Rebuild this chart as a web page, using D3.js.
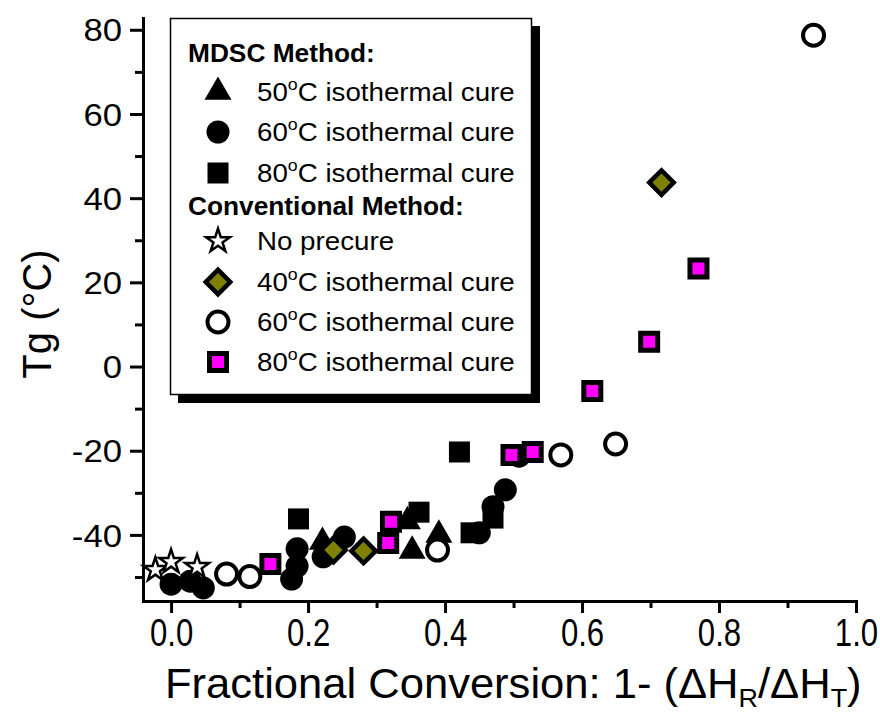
<!DOCTYPE html>
<html>
<head>
<meta charset="utf-8">
<script src="https://cdn.jsdelivr.net/npm/d3@7"></script>
<style>
  body { margin: 0; background: #fff; }
  svg { display: block; }
  text { font-family: "Liberation Sans", Arial, sans-serif; fill: #000; }
</style>
</head>
<body>
<svg id="chart" width="880" height="713"></svg>
<script>
// Glass transition temperature vs. fractional conversion

// MDSC method
const mdsc50X = [0.221, 0.345, 0.352, 0.391];
const mdsc50Y = [-41.7, -36.8, -43.8, -40.0];

const mdsc60X = [0.000, 0.028, 0.047, 0.176, 0.184, 0.184, 0.222, 0.253, 0.450, 0.470, 0.488, 0.508];
const mdsc60Y = [-51.7, -51.0, -52.6, -50.5, -47.4, -43.3, -45.2, -40.5, -39.5, -33.3, -29.3, -21.3];

const mdsc80X = [0.186, 0.362, 0.421, 0.438, 0.470];
const mdsc80Y = [-36.2, -34.6, -20.3, -39.5, -36.0];

// Conventional method
const noPrecureX = [-0.023, 0.000, 0.038];
const noPrecureY = [-48.3, -46.4, -47.6];

const conv40X = [0.237, 0.281, 0.716];
const conv40Y = [-43.6, -43.8, 43.7];

const conv60X = [0.081, 0.115, 0.389, 0.569, 0.649, 0.938];
const conv60Y = [-49.3, -49.9, -43.6, -21.0, -18.4, 78.7];

const conv80X = [0.145, 0.317, 0.321, 0.497, 0.528, 0.615, 0.698, 0.770];
const conv80Y = [-46.9, -41.9, -36.9, -21.0, -20.3, -5.8, 5.9, 23.3];

// Axis ticks
const xMajorTicks = [0.0, 0.2, 0.4, 0.6, 0.8, 1.0];
const xMinorTicks = [0.1, 0.3, 0.5, 0.7, 0.9];
const yMajorTicks = [-40, -20, 0, 20, 40, 60, 80];
const yMinorTicks = [-50, -30, -10, 10, 30, 50, 70];

const svg = d3.select("#chart");
svg.append("rect").attr("width", 880).attr("height", 713).attr("fill", "#fff");

const x = d3.scaleLinear().domain([-0.041, 1.0]).range([143, 856]);
const y = d3.scaleLinear().domain([-55.7, 82.8]).range([601, 18]);

// Marker styles
const markers = {
  tri:    { type: d3.symbolTriangle, size: 315, fill: "#000", stroke: "none", sw: 0 },
  dot:    { type: d3.symbolCircle,   size: Math.PI * 11.5 * 11.5, fill: "#000", stroke: "none", sw: 0 },
  sq:     { type: d3.symbolSquare,   size: 441, fill: "#000", stroke: "none", sw: 0 },
  star:   { type: d3.symbolStar,     size: 175, fill: "#fff", stroke: "#000", sw: 2.5 },
  dia:    { type: d3.symbolSquare,   size: 300, fill: "#808000", stroke: "#000", sw: 4.5, rot: 45 },
  ring:   { type: d3.symbolCircle,   size: Math.PI * 10.5 * 10.5, fill: "#fff", stroke: "#000", sw: 4 },
  magsq:  { type: d3.symbolSquare,   size: 289, fill: "#ff00ff", stroke: "#000", sw: 5 }
};

const series = [
  { xs: mdsc50X, ys: mdsc50Y, m: markers.tri },
  { xs: mdsc60X, ys: mdsc60Y, m: markers.dot },
  { xs: mdsc80X, ys: mdsc80Y, m: markers.sq },
  { xs: noPrecureX, ys: noPrecureY, m: markers.star },
  { xs: conv40X, ys: conv40Y, m: markers.dia },
  { xs: conv60X, ys: conv60Y, m: markers.ring },
  { xs: conv80X, ys: conv80Y, m: markers.magsq }
];

function drawMarker(g, m, cx, cy) {
  g.append("path")
    .attr("d", d3.symbol().type(m.type).size(m.size)())
    .attr("transform", `translate(${cx},${cy})` + (m.rot ? ` rotate(${m.rot})` : ""))
    .attr("fill", m.fill)
    .attr("stroke", m.stroke)
    .attr("stroke-width", m.sw)
    .attr("stroke-linejoin", "miter");
}

// Axes
const axisStyle = g => {
  g.selectAll("path.domain").attr("stroke", "#000").attr("stroke-width", 3).attr("stroke-linecap", "square");
  g.selectAll(".tick line").attr("stroke", "#000").attr("stroke-width", 3);
};

const xMinor = svg.append("g").attr("transform", "translate(0,601)")
  .call(d3.axisBottom(x).tickValues(xMinorTicks).tickSize(7).tickSizeOuter(0).tickFormat(""));
axisStyle(xMinor);
const xMajor = svg.append("g").attr("transform", "translate(0,601)")
  .call(d3.axisBottom(x).tickValues(xMajorTicks).tickSize(12).tickSizeOuter(0).tickPadding(9)
    .tickFormat(d => d.toFixed(1)));
axisStyle(xMajor);
xMajor.selectAll("text").attr("font-size", 38).attr("font-family", "Liberation Sans, Arial, sans-serif")
  .attr("y", 18).attr("transform", "scale(0.82,1)");

const yMinor = svg.append("g").attr("transform", "translate(143,0)")
  .call(d3.axisLeft(y).tickValues(yMinorTicks).tickSize(8).tickSizeOuter(0).tickFormat(""));
axisStyle(yMinor);
const yMajor = svg.append("g").attr("transform", "translate(143,0)")
  .call(d3.axisLeft(y).tickValues(yMajorTicks).tickSize(13).tickSizeOuter(0).tickPadding(8)
    .tickFormat(d => String(d)));
axisStyle(yMajor);
yMajor.selectAll("text").attr("font-size", 31).attr("font-family", "Liberation Sans, Arial, sans-serif")
  .attr("dy", "0.36em").attr("x", -21 / 1.12).attr("transform", "scale(1.12,1)");

// Data points
const plot = svg.append("g");
series.forEach(s => {
  s.xs.forEach((xv, i) => drawMarker(plot, s.m, x(xv), y(s.ys[i])));
});

// Axis titles
const xTitle = svg.append("text").attr("x", 165).attr("y", 698).attr("font-size", 42);
xTitle.append("tspan").text("Fractional Conversion: 1- (\u0394H");
xTitle.append("tspan").attr("font-size", 26).attr("dy", 9).text("R");
xTitle.append("tspan").attr("dy", -9).text("/\u0394H");
xTitle.append("tspan").attr("font-size", 26).attr("dy", 9).text("T");
xTitle.append("tspan").attr("dy", -9).text(")");
{
  const w = xTitle.node().getBBox().width;
  const s = 697 / w;
  xTitle.attr("transform", `translate(165,0) scale(${s},1) translate(-165,0)`);
}

svg.append("text")
  .attr("transform", "translate(51,314) rotate(-90)")
  .attr("text-anchor", "middle")
  .attr("font-size", 40)
  .text("Tg (\u00B0C)");

// Legend
const legendRows = [
  { label: "50", m: markers.tri, cy: 92 },
  { label: "60", m: markers.dot, cy: 132 },
  { label: "80", m: markers.sq, cy: 173 },
  { label: null, m: markers.star, cy: 241, text: "No precure" },
  { label: "40", m: markers.dia, cy: 282 },
  { label: "60", m: markers.ring, cy: 322 },
  { label: "80", m: markers.magsq, cy: 362 }
];

const legend = svg.append("g");
legend.append("rect").attr("x", 178).attr("y", 26).attr("width", 362).attr("height", 377).attr("fill", "#000");
legend.append("rect").attr("x", 170.5).attr("y", 18.5).attr("width", 361).attr("height", 376)
  .attr("fill", "#fff").attr("stroke", "#000").attr("stroke-width", 1.5);

function stretch(t, x0, w) {
  const bw = t.node().getBBox().width;
  t.attr("transform", `translate(${x0},0) scale(${w / bw},1) translate(${-x0},0)`);
}

const h1 = legend.append("text").attr("x", 188).attr("y", 62).attr("font-size", 25).attr("font-weight", "bold").text("MDSC Method:");
stretch(h1, 188, 187);
const h2 = legend.append("text").attr("x", 188).attr("y", 215).attr("font-size", 25).attr("font-weight", "bold").text("Conventional Method:");
stretch(h2, 188, 276);

let rowScale = null;
legendRows.forEach(r => {
  drawMarker(legend, r.m, 218, r.cy);
  const t = legend.append("text").attr("x", 257).attr("y", r.cy + 9).attr("font-size", 25);
  if (r.label) {
    t.append("tspan").text(r.label);
    t.append("tspan").attr("font-size", 16).attr("dy", -11).text("o");
    t.append("tspan").attr("dy", 11).text("C isothermal cure");
  } else {
    t.text(r.text);
  }
  if (rowScale === null) rowScale = 258 / t.node().getBBox().width;
  t.attr("transform", `translate(257,0) scale(${rowScale},1) translate(-257,0)`);
});
</script>
</body>
</html>
